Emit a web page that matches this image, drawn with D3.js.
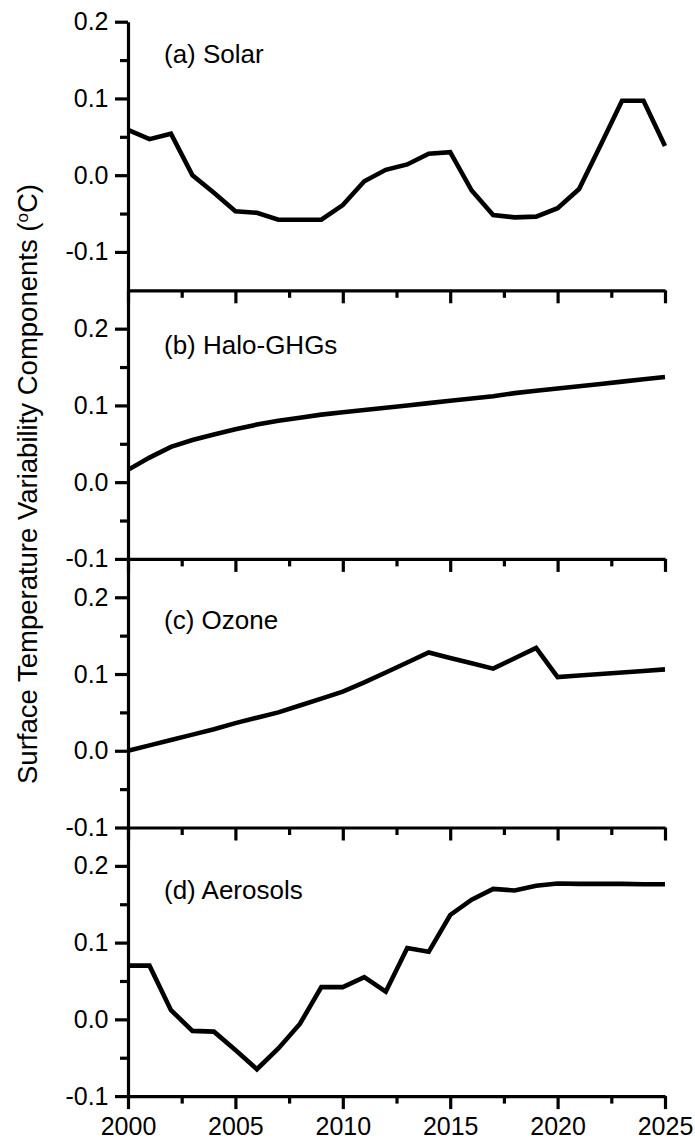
<!DOCTYPE html>
<html>
<head>
<meta charset="utf-8">
<script src="https://cdn.jsdelivr.net/npm/d3@7"></script>
<style>
  html, body { margin: 0; padding: 0; background: #fff; }
  svg { display: block; font-family: "Liberation Sans", Arial, Helvetica, sans-serif; }
</style>
</head>
<body>
<svg id="chart" width="695" height="1141"></svg>
<script>
// Years shared by every panel
const years = [2000, 2001, 2002, 2003, 2004, 2005, 2006, 2007, 2008, 2009,
               2010, 2011, 2012, 2013, 2014, 2015, 2016, 2017, 2018, 2019,
               2020, 2021, 2022, 2023, 2024, 2025];

// Surface temperature components (°C)
const solar = [0.059, 0.047, 0.054, 0.000, -0.023, -0.047, -0.049, -0.058, -0.058, -0.058,
               -0.039, -0.008, 0.007, 0.014, 0.028, 0.030, -0.020, -0.052, -0.055, -0.054,
               -0.043, -0.018, 0.039, 0.097, 0.097, 0.038];
const haloGHGs = [0.016, 0.032, 0.046, 0.055, 0.062, 0.069, 0.075, 0.080, 0.084, 0.088,
                  0.091, 0.094, 0.097, 0.100, 0.103, 0.106, 0.109, 0.112, 0.116, 0.119,
                  0.122, 0.125, 0.128, 0.131, 0.134, 0.137];
const ozone = [0.000, 0.007, 0.014, 0.021, 0.028, 0.036, 0.043, 0.050, 0.059, 0.068,
               0.077, 0.089, 0.102, 0.115, 0.128, 0.121, 0.114, 0.107, 0.1205, 0.134,
               0.096, 0.098, 0.100, 0.102, 0.104, 0.106];
const aerosols = [0.070, 0.070, 0.012, -0.015, -0.016, -0.040, -0.065, -0.038, -0.006, 0.042,
                  0.042, 0.055, 0.036, 0.093, 0.088, 0.136, 0.156, 0.170, 0.168, 0.174,
                  0.177, 0.1765, 0.1765, 0.1765, 0.176, 0.176];

// Panel titles
const panelLabels = ["(a) Solar", "(b) Halo-GHGs", "(c) Ozone", "(d) Aerosols"];

// Tick values
const xMajorTicks = [2000, 2005, 2010, 2015, 2020, 2025];
const xMinorTicks = [2002.5, 2007.5, 2012.5, 2017.5, 2022.5];
const yMajorTicks = [-0.1, 0.0, 0.1, 0.2];
const yMinorTicks = [-0.05, 0.05, 0.15];

const yTitle = "Surface Temperature Variability Components (";

// ---- layout ----
const FONT = "'Liberation Sans', Arial, sans-serif";
const svg = d3.select("#chart");
const left = 128, right = 665;
const top0 = 21.7, panelH = 268.6;
const panels = [
  { values: solar,    domain: [-0.15, 0.2],  labelDy: 41.5 },
  { values: haloGHGs, domain: [-0.1, 0.25],  labelDy: 64 },
  { values: ozone,    domain: [-0.1, 0.25],  labelDy: 70 },
  { values: aerosols, domain: [-0.1, 0.25],  labelDy: 71 }
];

const x = d3.scaleLinear().domain([2000, 2025]).range([left, right]);
const fmt = d => (Math.abs(d) < 1e-9 ? 0 : d).toFixed(1);

panels.forEach((p, i) => {
  const yTop = top0 + i * panelH;
  const yBot = yTop + panelH;
  const y = d3.scaleLinear().domain(p.domain).range([yBot, yTop]);
  const g = svg.append("g");

  // left axis: major (labelled) and minor ticks
  const yMaj = g.append("g").attr("transform", `translate(${left},0)`)
    .call(d3.axisLeft(y).tickValues(yMajorTicks).tickFormat(fmt)
      .tickSizeInner(13).tickSizeOuter(0).tickPadding(6.5));
  const yMin = g.append("g").attr("transform", `translate(${left},0)`)
    .call(d3.axisLeft(y).tickValues(yMinorTicks).tickFormat("")
      .tickSizeInner(8).tickSizeOuter(0));
  yMin.select(".domain").remove();

  // bottom axis of the panel, ticks pointing down
  const last = i === panels.length - 1;
  const xMaj = g.append("g").attr("transform", `translate(0,${yBot})`)
    .call(d3.axisBottom(x).tickValues(xMajorTicks)
      .tickFormat(last ? d3.format("d") : "")
      .tickSizeInner(13).tickSizeOuter(0).tickPadding(8));
  const xMin = g.append("g").attr("transform", `translate(0,${yBot})`)
    .call(d3.axisBottom(x).tickValues(xMinorTicks).tickFormat("")
      .tickSizeInner(7.5).tickSizeOuter(0));
  xMin.select(".domain").remove();

  [yMaj, yMin, xMaj, xMin].forEach(a => {
    a.attr("font-family", FONT);
    a.selectAll("path, line").attr("stroke", "#000").attr("stroke-width", 3.2);
    a.selectAll("text").attr("fill", "#000").style("font-size", "25px")
      .style("font-family", FONT);
  });

  // series line
  const line = d3.line().x((d, k) => x(years[k])).y(d => y(d));
  g.append("path").datum(p.values)
    .attr("d", line)
    .attr("fill", "none")
    .attr("stroke", "#000")
    .attr("stroke-width", 4.6)
    .attr("stroke-linejoin", "miter");

  // panel label
  g.append("text")
    .attr("x", 164).attr("y", yTop + p.labelDy)
    .attr("fill", "#000")
    .style("font-family", FONT)
    .style("font-size", "26px")
    .text(panelLabels[i]);
});

// shared vertical axis title
const title = svg.append("text")
  .attr("transform", "translate(37,484) rotate(-90)")
  .attr("text-anchor", "middle")
  .attr("fill", "#000")
  .style("font-family", FONT)
  .style("font-size", "27.5px");
title.append("tspan").text(yTitle);
title.append("tspan").attr("dy", -9).style("font-size", "17px").text("o");
title.append("tspan").attr("dy", 9).text("C)");
</script>
</body>
</html>
